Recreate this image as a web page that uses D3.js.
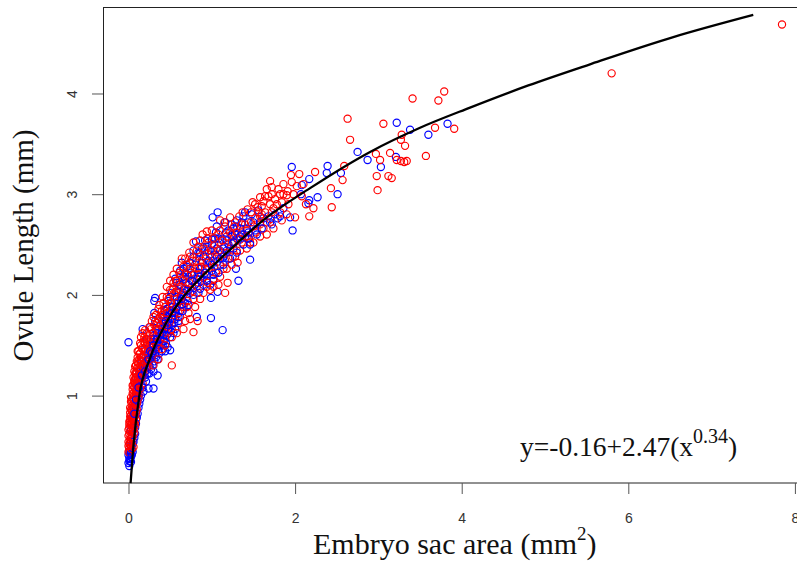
<!DOCTYPE html>
<html lang="en">
<head>
    <meta charset="UTF-8">
    <title>Ovule length vs embryo sac area</title>
    <script src="https://d3js.org/d3.v7.min.js"></script>
    <style>
        body { margin: 0; background: #fff; }
        svg { display: block; }
        text { font-family: "Liberation Serif", serif; fill: #111; }
        .tick text { font-family: "Liberation Sans", sans-serif; font-size: 14px; fill: #333; }
        .tick line { stroke: #555; }
    </style>
</head>
<body>
    <svg width="797" height="561"></svg>

    <script>
        // values (area mm2, length mm)
        const xTicks = [0, 2, 4, 6, 8];
        const yTicks = [1, 2, 3, 4];

        const fitX = [0.025, 0.058, 0.13, 0.258, 0.458, 0.82, 0.94, 1.3, 1.615, 2.18, 2.9, 3.5, 4.1, 4.8, 5.54, 6.54, 7.5];
        const fitY = [0.13, 0.49, 1.0, 1.37, 1.73, 2.13, 2.23, 2.51, 2.74, 3.06, 3.42, 3.66, 3.86, 4.08, 4.29, 4.56, 4.78];

        const redPoints = [
            [7.845,4.685],[5.80,4.20],[3.79,4.02],[3.72,3.93],[3.41,3.95],[2.63,3.75],[3.06,3.70],[3.91,3.65],[3.68,3.66],[3.28,3.59],
            [3.27,3.54],[2.66,3.54],[3.32,3.48],[3.14,3.41],[2.97,3.40],[3.02,3.34],[3.31,3.32],[3.34,3.33],[3.27,3.33],[3.22,3.34],
            [3.57,3.38],[2.59,3.28],[2.98,3.18],[3.12,3.18],[3.16,3.16],[2.99,3.04],[2.57,3.14],[2.43,3.06],[2.44,2.87],[2.24,3.22],
            [2.05,3.20],[1.95,3.19],[2.17,2.78],[2.00,2.77],[2.22,2.86],[2.13,2.90],[1.96,3.12],[1.86,3.10],[1.70,3.13],[1.72,3.07],
            [1.80,3.05],[1.91,3.03],[2.02,3.08],[1.68,2.98],[1.76,2.95],[1.84,2.92],[1.90,2.99],[1.62,2.93],[1.55,2.87],[1.64,2.82],
            [1.49,2.92],[1.43,2.85],[1.52,2.76],[1.58,2.70],[1.70,2.75],[1.40,2.70],[1.33,2.78],[1.28,2.72],[1.22,2.77],[1.36,2.62],
            [1.45,2.56],[1.31,2.32],[1.27,2.52],[1.16,2.68],[1.10,2.74],[1.18,2.58],[1.08,2.60],[1.22,2.46],[1.12,2.42],[1.03,2.50],
            [0.94,2.63],[0.89,2.60],[0.96,2.52],[1.00,2.38],[1.07,2.33],[0.92,2.44],[0.84,2.48],[0.78,2.52],[0.88,2.34],[0.97,2.27],
            [1.05,2.22],[1.19,2.12],[1.16,2.02],[0.98,2.05],[0.83,1.74],[0.78,1.63],[0.52,1.30],[0.86,2.18],[0.80,2.26],[0.74,2.38],
            [0.70,2.30],[0.64,2.36],[0.68,2.22],[0.76,2.14],[0.82,2.08],[0.90,2.02],[0.72,2.04],[0.62,2.18],[0.58,2.26],[0.60,2.10],
            [0.66,2.00],[0.54,2.12],[0.50,2.05],[0.56,1.98],[0.64,1.90],[0.72,1.82],[0.46,1.98],[0.42,1.92],[0.50,1.88],[0.55,1.80],
            [0.60,1.72],[0.66,1.66],[0.40,1.80],[0.36,1.86],[0.44,1.72],[0.48,1.62],[0.34,1.72],[0.30,1.78],[0.37,1.62],[0.27,1.66],
            [0.30,1.56],[0.24,1.60],[0.20,1.65],[0.17,1.62],[0.22,1.50],[0.18,1.54],[0.27,1.44],[0.15,1.50],[0.14,1.42],[0.19,1.40],
            [0.24,1.34],[0.13,1.36],[0.16,1.30],[0.12,1.28],[0.20,1.24],[0.10,1.24],[0.14,1.20],[0.09,1.18],[0.12,1.14],[0.17,1.12],
            [0.08,1.12],[0.07,1.08],[0.10,1.06],[0.13,1.02],[0.06,1.02],[0.08,0.98],[0.11,0.95],[0.05,0.97],[0.06,0.92],[0.09,0.89],
            [0.04,0.90],[0.03,0.86],[0.06,0.84],[0.08,0.80],[0.03,0.80],[0.05,0.76],[0.02,0.75],[0.07,0.72],[0.03,0.71],[0.01,0.68],
            [0.05,0.67],[0.02,0.64],[0.04,0.61],[0.00,0.60],[0.02,0.57],[0.05,0.55],[0.00,0.54],[0.03,0.50],[0.01,0.48],[0.00,0.44],
            [0.02,0.44],[0.03,0.94],[0.05,1.06],[0.08,1.22],[0.11,1.33],[0.15,1.38],[0.09,1.30],[0.12,1.44],[0.07,1.15],[0.10,1.00],
            [0.06,0.78],[0.04,0.69],[0.02,0.83],[0.01,0.74],[0.06,1.10],[0.11,1.12],[0.13,1.18],[0.16,1.47],[0.21,1.56],[0.26,1.52],
            [0.33,1.66],[0.38,1.78],[0.43,1.85],[0.47,1.76],[0.52,1.92],[0.57,2.03],[0.63,2.08],[0.69,2.12],[0.75,2.22],[0.81,2.34],
            [0.87,2.28],[0.93,2.36],[1.02,2.44],[1.09,2.52],[1.15,2.48],[1.24,2.60],[1.34,2.55],[1.42,2.64],[1.50,2.68],[1.60,2.80],
            [1.74,2.86],[1.82,3.00],[2.10,3.10],[1.66,3.05],[1.58,2.97],[0.29,1.48],[0.35,1.52],[0.41,1.68],[0.23,1.44],[0.18,1.34],
            [0.01,0.52],[0.04,0.47],[0.06,0.49],[0.00,0.50],[0.02,0.53],[0.05,0.59],[0.07,0.63],[0.01,0.62],[0.03,0.58],[0.06,0.66],
            [0.00,0.66],[0.08,0.70],[0.04,0.73],[0.01,0.71],[0.06,0.74],[0.09,0.76],[0.03,0.77],[0.07,0.79],[0.05,0.82],[0.09,0.83],
            [0.02,0.79],[0.04,0.85],[0.07,0.87],[0.10,0.86],[0.05,0.88],[0.02,0.88],[0.08,0.92],[0.04,0.95],[0.10,0.92],[0.06,0.96],
            [0.03,0.98],[0.12,0.98],[0.07,1.00],[0.09,1.04],[0.05,1.02],[0.11,1.03],[0.08,1.06],[0.14,1.07],[0.05,1.10],[0.10,1.12],
            [0.07,1.13],[0.13,1.13],[0.16,1.18],[0.08,1.17],[0.11,1.19],[0.06,1.18],[0.09,1.22],[0.13,1.24],[0.18,1.22],[0.07,1.24],
            [0.10,1.27],[0.15,1.27],[0.21,1.29],[0.08,1.29],[0.12,1.32],[0.18,1.30],[0.24,1.29],[0.10,1.34],[0.15,1.34],[0.21,1.35],
            [0.11,1.38],[0.17,1.38],[0.25,1.38],[0.13,1.41],[0.20,1.44],[0.29,1.42],[0.11,1.44],[0.17,1.46],[0.25,1.48],[0.33,1.46],
            [0.14,1.52],[0.20,1.52],[0.28,1.52],[0.36,1.54],[0.19,1.58],[0.24,1.55],[0.32,1.58],[0.40,1.58],[0.15,1.58],[0.22,1.62],
            [0.29,1.62],[0.35,1.66],[0.43,1.62],[0.25,1.68],[0.31,1.70],[0.38,1.70],[0.46,1.70],[0.52,1.66],[0.28,1.74],[0.36,1.76],
            [0.42,1.76],[0.50,1.74],[0.33,1.80],[0.40,1.84],[0.46,1.82],[0.54,1.84],[0.60,1.82],[0.37,1.90],[0.44,1.88],[0.51,1.92],
            [0.58,1.92],[0.66,1.88],[0.41,1.98],[0.48,1.96],[0.55,2.02],[0.63,1.98],[0.71,1.94],[0.46,2.08],[0.53,2.06],[0.60,2.06],
            [0.68,2.06],[0.77,2.04],[0.50,2.14],[0.57,2.14],[0.65,2.14],[0.73,2.12],[0.84,2.12],[0.95,2.12],[0.54,2.20],[0.61,2.22],
            [0.70,2.20],[0.79,2.20],[0.91,2.18],[1.02,2.16],[0.66,2.28],[0.74,2.26],[0.84,2.27],[0.92,2.26],[1.03,2.28],[1.14,2.26],
            [0.68,2.36],[0.77,2.34],[0.85,2.38],[0.94,2.32],[1.04,2.36],[1.16,2.34],[1.25,2.38],[0.73,2.42],[0.82,2.44],[0.90,2.46],
            [0.99,2.44],[1.08,2.44],[1.18,2.42],[1.30,2.44],[0.86,2.54],[0.95,2.56],[1.02,2.56],[1.13,2.54],[1.24,2.52],[1.36,2.52],
            [1.00,2.64],[1.10,2.64],[1.22,2.62],[1.30,2.62],[1.42,2.58],[1.53,2.62],[1.15,2.72],[1.27,2.68],[1.36,2.70],[1.47,2.72],
            [1.58,2.78],[1.66,2.72],[1.37,2.82],[1.47,2.82],[1.56,2.82],[1.72,2.82],[1.82,2.82],[1.52,2.90],[1.60,2.88],[1.70,2.90],
            [1.78,2.90],[1.92,2.90],[1.64,2.98],[1.72,3.00],[1.86,3.00],[1.98,3.00],[2.08,2.98]
        ];

        const bluePoints = [
            [3.83,3.70],[3.22,3.71],[3.38,3.64],[3.60,3.59],[2.75,3.42],[2.87,3.34],[3.21,3.37],[3.03,3.27],[1.96,3.27],[2.39,3.28],
            [2.38,3.21],[2.55,3.21],[2.17,3.15],[2.51,3.00],[2.27,2.97],[2.17,2.94],[2.16,2.91],[1.94,2.77],[1.97,2.64],[1.79,2.76],
            [2.08,3.09],[2.07,3.00],[0.00,1.53],[0.32,1.97],[0.31,1.94],[0.31,1.82],[0.82,1.78],[0.99,1.77],[1.13,1.65],[0.35,1.20],
            [0.30,1.07],[0.24,1.07],[0.50,1.45],[1.07,2.03],[0.99,1.97],[0.17,1.66],[1.07,2.82],[1.01,2.77],[0.81,2.53],[1.46,2.35],
            [1.29,2.26],[1.32,2.14],[0.64,2.32],[1.70,2.72],[1.62,2.76],[1.52,2.64],[1.44,2.72],[1.38,2.78],[1.30,2.74],[1.24,2.70],
            [1.34,2.66],[1.40,2.58],[1.28,2.60],[1.20,2.64],[1.12,2.55],[1.20,2.50],[1.05,2.62],[1.00,2.55],[0.94,2.48],[1.06,2.46],
            [1.14,2.38],[0.98,2.40],[0.90,2.38],[0.84,2.42],[0.78,2.44],[0.74,2.32],[0.86,2.26],[0.94,2.20],[1.02,2.14],[0.90,2.10],
            [0.82,2.16],[0.76,2.08],[0.68,2.16],[0.62,2.24],[0.70,1.98],[0.60,2.02],[0.56,2.16],[0.52,2.02],[0.48,1.94],[0.58,1.88],
            [0.52,1.76],[0.44,1.84],[0.40,1.74],[0.46,1.68],[0.54,1.62],[0.36,1.66],[0.32,1.74],[0.38,1.56],[0.45,1.52],[0.42,1.60],
            [0.30,1.60],[0.26,1.68],[0.34,1.48],[0.40,1.44],[0.28,1.48],[0.22,1.56],[0.32,1.40],[0.26,1.36],[0.20,1.46],[0.18,1.38],
            [0.29,1.30],[0.22,1.28],[0.16,1.34],[0.25,1.22],[0.19,1.20],[0.14,1.26],[0.21,1.14],[0.16,1.10],[0.11,1.16],[0.18,1.04],
            [0.13,1.06],[0.10,1.10],[0.14,0.96],[0.10,0.93],[0.07,0.96],[0.12,0.88],[0.09,0.84],[0.06,0.88],[0.10,0.78],[0.07,0.74],
            [0.04,0.78],[0.08,0.68],[0.05,0.64],[0.03,0.66],[0.07,0.58],[0.05,0.52],[0.03,0.54],[0.04,0.46],[0.02,0.42],[0.03,0.39],
            [0.01,0.38],[0.02,0.35],[0.00,0.33],[0.01,0.30],[0.03,0.34],[0.00,0.41],[0.02,0.37],[0.01,0.45],[0.06,0.70],[0.09,1.02],
            [0.13,1.22],[0.17,1.28],[0.23,1.38],[0.27,1.56],[0.35,1.58],[0.43,1.66],[0.49,1.72],[0.56,1.82],[0.63,1.94],[0.67,2.06],
            [0.72,2.18],[0.80,2.30],[0.88,2.46],[0.96,2.34],[1.04,2.56],[1.10,2.44],[1.17,2.62],[1.26,2.66],[1.36,2.72],[1.48,2.80],
            [1.56,2.84],[0.66,2.26],[0.58,2.12],[0.50,1.84],[0.41,1.50],[0.31,1.34],[0.20,1.32],[0.15,1.16],[0.12,1.00],[0.08,0.90],
            [0.04,0.41],[0.05,0.44],[0.01,0.35],[0.03,0.43],[0.06,0.54],[0.08,0.62],[0.09,0.72],[0.11,0.82],[0.13,0.92],[0.15,1.00],
            [0.17,1.08],[0.20,1.18],[0.23,1.22],[0.27,1.26],[0.19,1.26],[0.25,1.30],[0.30,1.24],[0.22,1.34],[0.28,1.38],[0.35,1.36],
            [0.24,1.42],[0.30,1.44],[0.37,1.42],[0.44,1.44],[0.33,1.52],[0.39,1.50],[0.47,1.48],[0.31,1.56],[0.37,1.60],[0.44,1.56],
            [0.50,1.58],[0.56,1.66],[0.34,1.62],[0.40,1.66],[0.48,1.66],[0.52,1.70],[0.60,1.74],[0.42,1.78],[0.48,1.78],[0.56,1.76],
            [0.62,1.84],[0.46,1.86],[0.53,1.88],[0.60,1.94],[0.68,1.92],[0.50,1.98],[0.58,1.98],[0.66,2.02],[0.74,2.02],[0.84,2.02],
            [0.62,2.10],[0.72,2.10],[0.80,2.10],[0.88,2.14],[0.98,2.10],[0.66,2.18],[0.76,2.20],[0.84,2.22],[0.92,2.26],[1.00,2.24],
            [1.10,2.30],[0.70,2.28],[0.78,2.38],[0.88,2.32],[0.98,2.32],[1.06,2.38],[1.20,2.36],[0.86,2.42],[0.96,2.44],[1.04,2.40],
            [1.14,2.46],[1.26,2.46],[0.92,2.54],[1.00,2.50],[1.08,2.56],[1.18,2.54],[1.30,2.56],[1.44,2.56],[1.06,2.68],[1.16,2.72],
            [1.24,2.58],[1.36,2.60],[1.30,2.68],[1.42,2.66],[1.50,2.72],[1.58,2.72],[1.68,2.78],[1.76,2.80],[1.86,2.86],[1.40,2.82]
        ];

        // points on and under the curve, drawn last
        const redLower = [
            [0.62,1.78],[0.70,1.88],[0.78,1.96],[0.86,1.96],[0.94,2.08],[0.74,1.76],[1.02,2.08],[1.10,2.18],[1.18,2.26],[1.24,2.30],
            [1.34,2.44],[1.42,2.46],[1.50,2.52],[1.58,2.58],[1.66,2.60],[1.74,2.66],[1.84,2.74],[0.44,1.50],[0.52,1.58],[0.58,1.62],
            [0.36,1.36],[0.30,1.30],[0.40,1.46],[0.68,1.74],[0.80,1.88],[1.08,2.10],[1.28,2.38],[1.46,2.52],[1.62,2.66],[1.90,2.80]
        ];

        const blueLower = [
            [0.20,1.24],[0.24,1.36],[0.28,1.42],[0.33,1.38],[0.37,1.50],[0.42,1.54],[0.36,1.46],[0.46,1.60],[0.51,1.64],[0.55,1.72],
            [0.47,1.70],[0.60,1.78],[0.65,1.84],[0.57,1.86],[0.72,1.90],[0.64,1.96],[0.70,2.04],[0.78,2.00],[0.86,2.06],[0.94,2.14],
            [1.02,2.20],[0.76,2.14],[0.84,2.18],[0.92,2.22],[1.08,2.22],[1.14,2.30],[1.22,2.36],[1.00,2.30],[1.10,2.36],[1.30,2.42],
            [1.18,2.44],[1.38,2.50],[1.46,2.50],[1.26,2.52],[1.54,2.60],[1.34,2.58],[1.60,2.66],[1.44,2.62],[1.72,2.70],[1.82,2.78],
            [0.16,1.20],[0.12,1.08],[0.09,0.96],[0.07,0.82],[0.30,1.50],[0.26,1.44],[0.34,1.56],[0.40,1.62],[0.45,1.74],[0.52,1.82]
        ];

        const svg = d3.select('svg');

        // scales fitted to the tick positions in the picture
        const x = d3.scaleLinear().domain([-0.306, 8.025]).range([103, 797]);
        const y = d3.scaleLinear().domain([0.132, 4.859]).range([483, 7]);

        // frame
        svg.append('rect')
            .attr('x', 103.5).attr('y', 7.5)
            .attr('width', 700).attr('height', 475.5)
            .attr('fill', 'none')
            .attr('stroke', '#222');

        // axes
        const xAxis = d3.axisBottom(x).tickValues(xTicks).tickFormat(d3.format('d')).tickSizeInner(11).tickSizeOuter(0).tickPadding(19);
        svg.append('g').attr('transform', 'translate(0,483)').call(xAxis)
            .call(g => g.select('.domain').remove());

        const yAxis = d3.axisLeft(y).tickValues(yTicks).tickFormat(d3.format('d')).tickSizeInner(11).tickSizeOuter(0).tickPadding(0);
        svg.append('g').attr('transform', 'translate(103,0)').call(yAxis)
            .call(g => g.select('.domain').remove())
            .selectAll('.tick text')
            .attr('text-anchor', 'middle')
            .attr('dy', 0)
            .attr('x', 0).attr('y', 0)
            .attr('transform', 'translate(-26,0) rotate(-90)');

        // points, red and blue drawn in turn so they mix like the original
        const merged = [];
        const addTurns = (reds, blues) => {
            d3.range(Math.max(reds.length, blues.length)).forEach(i => {
                if (reds[i]) merged.push({p: reds[i], color: '#ff0000'});
                if (blues[i]) merged.push({p: blues[i], color: '#0000ff'});
            });
        };
        addTurns(redPoints, bluePoints);
        addTurns(redLower, blueLower);

        svg.append('g').selectAll('circle')
            .data(merged)
            .enter().append('circle')
            .attr('cx', d => x(d.p[0]))
            .attr('cy', d => y(d.p[1]))
            .attr('r', 3.6)
            .attr('fill', 'none')
            .attr('stroke', d => d.color)
            .attr('stroke-width', 1.15);

        // fitted curve
        const line = d3.line().x(d => x(d[0])).y(d => y(d[1])).curve(d3.curveMonotoneX);
        svg.append('path')
            .datum(d3.zip(fitX, fitY))
            .attr('d', line)
            .attr('fill', 'none')
            .attr('stroke', '#000')
            .attr('stroke-width', 2.3);

        // labels
        const xLabel = svg.append('text')
            .attr('x', 313).attr('y', 554)
            .attr('font-size', 30);
        xLabel.append('tspan').text('Embryo sac area (mm');
        xLabel.append('tspan').text('2').attr('font-size', 19).attr('dy', -14);
        xLabel.append('tspan').text(')').attr('dy', 14);

        svg.append('text')
            .attr('transform', 'translate(33,245.5) rotate(-90)')
            .attr('text-anchor', 'middle')
            .attr('font-size', 29)
            .text('Ovule Length (mm)');

        const eq = svg.append('text')
            .attr('x', 520).attr('y', 456)
            .attr('font-size', 27.5);
        eq.append('tspan').text('y=-0.16+2.47(x');
        eq.append('tspan').text('0.34').attr('font-size', 20).attr('dy', -13);
        eq.append('tspan').text(')').attr('dy', 13);
    </script>
</body>
</html>
